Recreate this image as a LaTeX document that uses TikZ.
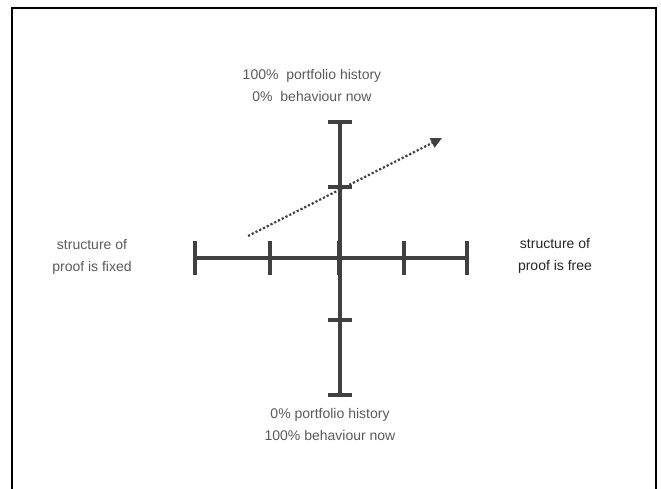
\documentclass[tikz,border=0pt]{standalone}
\usepackage{fontspec}
\setmainfont{Liberation Sans}
\usepackage{tikz}
\usetikzlibrary{arrows.meta, positioning}
\definecolor{axisgray}{HTML}{404040}
\definecolor{textgray}{HTML}{5A5A5A}
\tikzstyle{axis} = [line width=3.5pt, draw=axisgray]
\tikzstyle{tick} = [line width=4.5pt, draw=axisgray]
\tikzstyle{trend} = [line width=2.2pt, draw=axisgray, dotted, -{Triangle[length=11pt,width=10pt]}]
\tikzstyle{caption} = [text=textgray, align=center, font=\fontsize{14}{22}\selectfont, inner sep=0pt]

\begin{document}
\begin{tikzpicture}[x=1pt, y=-1pt]
        \useasboundingbox (0,0) rectangle (661,489);
        \draw[line width=2pt] (12,489) -- (12,8) -- (656,8) -- (656,489);
        % axes
        \coordinate (left) at (195,258);
        \coordinate (right) at (467,258);
        \coordinate (top) at (340,122);
        \coordinate (bottom) at (340,395);
        \draw[axis] (left) -- (right);
        \draw[axis] (top) -- (bottom);
        \foreach \x in {195,270,339,404,467}
            \draw[tick] (\x,241) -- (\x,275);
        \foreach \y in {122,187,320,395}
            \draw[tick] (328,\y) -- (352,\y);
        % trend
        \coordinate (from) at (248,236);
        \coordinate (to) at (442,138);
        \draw[trend] (from) -- (to);
        % labels
        \node[caption] (history) at (312,85) {100\%\ \ portfolio history\\0\%\ \ behaviour now};
        \node[caption] (now) at (330,424) {0\%\ portfolio history\\100\%\ behaviour now};
        \node[caption] (fixed) at (92,257) {structure of\\proof is fixed};
        \node[caption, text=black!85] (free) at (555,256) {structure of\\proof is free};
    \end{tikzpicture}
\end{document}
